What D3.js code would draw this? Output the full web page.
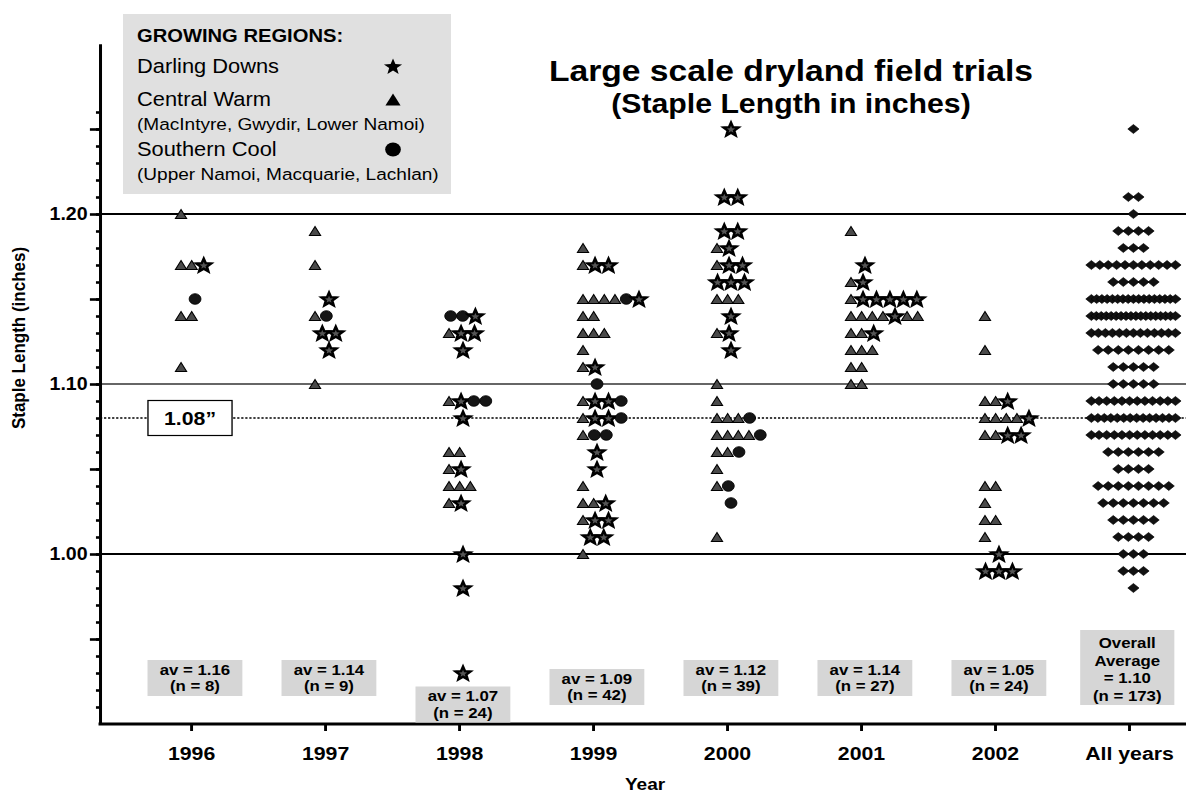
<!DOCTYPE html>
<html>
<head>
<meta charset="utf-8">
<script src="https://cdn.jsdelivr.net/npm/d3@7"></script>
<style>
  html, body { margin: 0; padding: 0; background: #fff; }
  svg { display: block; }
</style>
</head>
<body>
<svg id="chart" width="1186" height="793"></svg>
<script>
// ---------------------------------------------------------------------------
// Data: staple length (inches) of each large scale dryland trial, by season.
// Each row is [staple length, growing regions of the trials at that length],
// region codes: D = Darling Downs, W = Central Warm, S = Southern Cool.
// ---------------------------------------------------------------------------
const categories = ["1996", "1997", "1998", "1999", "2000", "2001", "2002", "All years"];

const trials1996 = [[1.20, "W"], [1.17, "WWD"], [1.15, "S"], [1.14, "WW"], [1.11, "W"]];
const trials1997 = [[1.19, "W"], [1.17, "W"], [1.15, "D"], [1.14, "WS"], [1.13, "DD"], [1.12, "D"], [1.10, "W"]];
const trials1998 = [[1.14, "SSD"], [1.13, "WDD"], [1.12, "D"], [1.09, "WDSS"], [1.08, "D"], [1.06, "WW"],
                    [1.05, "WD"], [1.04, "WWW"], [1.03, "WD"], [1.00, "D"], [0.98, "D"], [0.93, "D"]];
const trials1999 = [[1.18, "W"], [1.17, "WDD"], [1.15, "WWWWSD"], [1.14, "WW"], [1.13, "WWW"], [1.12, "W"],
                    [1.11, "WD"], [1.10, "S"], [1.09, "WDDS"], [1.08, "WDDS"], [1.07, "WSS"], [1.06, "D"],
                    [1.05, "D"], [1.04, "W"], [1.03, "WWD"], [1.02, "WDD"], [1.01, "DD"], [1.00, "W"]];
const trials2000 = [[1.25, "D"], [1.21, "DD"], [1.19, "DD"], [1.18, "WD"], [1.17, "WDD"], [1.16, "DDD"],
                    [1.15, "WWW"], [1.14, "D"], [1.13, "WD"], [1.12, "D"], [1.10, "W"], [1.09, "W"],
                    [1.08, "WWWS"], [1.07, "WWWWS"], [1.06, "WWS"], [1.05, "W"], [1.04, "WS"], [1.03, "S"], [1.01, "W"]];
const trials2001 = [[1.19, "W"], [1.17, "D"], [1.16, "WD"], [1.15, "WDDDDD"], [1.14, "WWWWDWW"],
                    [1.13, "WWD"], [1.12, "WWW"], [1.11, "WW"], [1.10, "WW"]];
const trials2002 = [[1.14, "W"], [1.12, "W"], [1.09, "WWD"], [1.08, "WWWWD"], [1.07, "WWDD"], [1.04, "WW"],
                    [1.03, "W"], [1.02, "WW"], [1.01, "W"], [1.00, "D"], [0.99, "DDD"]];

const trialsByYear = [trials1996, trials1997, trials1998, trials1999, trials2000, trials2001, trials2002];
const yearAverages = [1.16, 1.14, 1.07, 1.09, 1.12, 1.14, 1.05];
const overallAverage = 1.10;
const referenceLength = 1.08;

const yMinorTicks = d3.range(91, 127).map(v => v / 100);
const yMajorTicks = [0.95, 1.00, 1.05, 1.10, 1.15, 1.20, 1.25];
const yTickLabels = ["1.00", "1.10", "1.20"];
const gridLevels = [1.20, 1.10, 1.00];

const legendTitle = "GROWING REGIONS:";
const legendItems = [
  { code: "D", name: "Darling Downs", note: null },
  { code: "W", name: "Central Warm", note: "(MacIntyre, Gwydir, Lower Namoi)" },
  { code: "S", name: "Southern Cool", note: "(Upper Namoi, Macquarie, Lachlan)" }
];

// ---------------------------------------------------------------------------
// Layout: the chart is drawn on a 1058 x 793 canvas and displayed stretched
// to the 1186 px page width.
// ---------------------------------------------------------------------------
const W = 1058, H = 793;
const FONT = "'Liberation Sans', Arial, Helvetica, sans-serif";
const plot = { left: 89.2, right: W, top: 44, bottom: 724 };

const svg = d3.select("#chart")
  .attr("viewBox", `0 0 ${W} ${H}`)
  .attr("preserveAspectRatio", "none")
  .style("font-family", FONT);

const y = d3.scaleLinear().domain([0.90, 1.30]).range([plot.bottom, plot.top]);
const x = d3.scalePoint().domain(categories).range([170.4, 1007.1]);

// marker shapes
function starPath(R, r) {
  const pts = [];
  for (let i = 0; i < 10; i++) {
    const a = -Math.PI / 2 + i * Math.PI / 5;
    const rad = i % 2 ? r : R;
    pts.push([Math.cos(a) * rad, Math.sin(a) * rad + R * 0.095]);
  }
  return "M" + pts.map(p => p.map(v => v.toFixed(2)).join(",")).join("L") + "Z";
}
function trianglePath(w, h) {
  return `M0,${-h / 2}L${w / 2},${h / 2}L${-w / 2},${h / 2}Z`;
}
function diamondPath(w, h) {
  return `M0,${-h / 2}L${w / 2},0L0,${h / 2}L${-w / 2},0Z`;
}
const circlePath = r => d3.symbol(d3.symbolCircle, Math.PI * r * r)();

const markStyle = {
  D: { d: starPath(7, 3), fill: "#555", stroke: "#000", sw: 2.3 },
  W: { d: trianglePath(10, 9), fill: "#4a4a4a", stroke: "#000", sw: 1 },
  S: { d: circlePath(5.3), fill: "#151515", stroke: "#000", sw: 0.8 }
};
const footprint = { W: 9.5, S: 10.7, D: 12 };

// ---------------------------------------------------------------------------
// Reference lines
// ---------------------------------------------------------------------------
const grid = svg.append("g");
grid.selectAll("line.level")
  .data(gridLevels)
  .join("line")
  .attr("class", "level")
  .attr("x1", plot.left).attr("x2", plot.right)
  .attr("y1", d => y(d)).attr("y2", d => y(d))
  .attr("stroke", d => d === 1.10 ? "#333" : "#000")
  .attr("stroke-width", d => d === 1.10 ? 1.3 : 2.2);

grid.append("line")
  .attr("x1", plot.left).attr("x2", plot.right)
  .attr("y1", y(referenceLength)).attr("y2", y(referenceLength))
  .attr("stroke", "#000").attr("stroke-width", 1.6)
  .attr("stroke-dasharray", "2 1.6");

// ---------------------------------------------------------------------------
// Trial marks per season
// ---------------------------------------------------------------------------
const points = [];
trialsByYear.forEach((rows, i) => {
  const cat = categories[i];
  const base = x(cat) - 8.9;
  rows.forEach(([value, codes]) => {
    const list = codes.split("");
    const xs = [0];
    for (let k = 1; k < list.length; k++) {
      xs.push(xs[k - 1] + (footprint[list[k - 1]] + footprint[list[k]]) / 2);
    }
    let start = base;
    if (list[0] !== "W") {
      const span = xs[xs.length - 1];
      start = base + 12.5 - span / 2;
    }
    list.forEach((code, k) => points.push({ cat, value, code, x: start + xs[k] }));
  });
});

svg.append("g")
  .selectAll("path")
  .data(points)
  .join("path")
  .attr("d", d => markStyle[d.code].d)
  .attr("transform", d => `translate(${d.x},${y(d.value)})`)
  .attr("fill", d => markStyle[d.code].fill)
  .attr("stroke", d => markStyle[d.code].stroke)
  .attr("stroke-width", d => markStyle[d.code].sw)
  .attr("stroke-linejoin", "miter");

// All seasons pooled, one diamond per trial
const pooled = d3.rollups(points, v => v.length, d => Math.round(d.value * 100))
  .map(([k, n]) => ({ value: k / 100, n }));
const diamonds = [];
const allX = x("All years") + 4;
pooled.forEach(({ value, n }) => {
  const step = n > 1 ? Math.min(9, 75 / (n - 1)) : 0;
  for (let i = 0; i < n; i++) diamonds.push({ value, x: allX + (i - (n - 1) / 2) * step });
});
svg.append("g")
  .selectAll("path")
  .data(diamonds)
  .join("path")
  .attr("d", diamondPath(10, 9))
  .attr("transform", d => `translate(${d.x},${y(d.value)})`)
  .attr("fill", "#111")
  .attr("stroke", "#000")
  .attr("stroke-width", 0.6);

// ---------------------------------------------------------------------------
// Axes
// ---------------------------------------------------------------------------
const yAxisMinor = d3.axisLeft(y).tickValues(yMinorTicks).tickSize(3.6).tickSizeOuter(0).tickFormat("");
const yAxisMajor = d3.axisLeft(y).tickValues(yMajorTicks).tickSize(9).tickSizeOuter(0).tickPadding(2)
  .tickFormat(d => { const s = d3.format(".2f")(d); return yTickLabels.includes(s) ? s : ""; });

const gyMinor = svg.append("g").attr("transform", `translate(${plot.left},0)`).call(yAxisMinor);
const gyMajor = svg.append("g").attr("transform", `translate(${plot.left},0)`).call(yAxisMajor);
[gyMinor, gyMajor].forEach(g => {
  g.selectAll(".tick line").attr("stroke", "#000").attr("stroke-width", 2.6);
  g.select(".domain").attr("stroke", "#000").attr("stroke-width", 2.6);
});
gyMajor.selectAll(".tick text")
  .attr("fill", "#000")
  .style("font-family", FONT)
  .style("font-size", "17.5px")
  .style("font-weight", "bold");

// x axis
svg.append("line")
  .attr("x1", plot.left - 1.3).attr("x2", plot.right)
  .attr("y1", plot.bottom).attr("y2", plot.bottom)
  .attr("stroke", "#000").attr("stroke-width", 3);
const gx = svg.append("g")
  .attr("transform", `translate(0,${plot.bottom})`)
  .call(d3.axisBottom(x).tickSize(7).tickSizeOuter(0));
gx.select(".domain").remove();
gx.selectAll(".tick line").attr("stroke", "#000").attr("stroke-width", 2.6);
gx.selectAll(".tick text")
  .attr("y", 36).attr("dy", 0)
  .attr("fill", "#000")
  .style("font-family", FONT)
  .style("font-size", "19px")
  .style("font-weight", "bold");

// axis titles
svg.append("text")
  .attr("transform", `translate(22,338) rotate(-90)`)
  .attr("text-anchor", "middle")
  .style("font-size", "17px").style("font-weight", "bold")
  .text("Staple Length (inches)");
svg.append("text")
  .attr("x", 575.4).attr("y", 790)
  .attr("text-anchor", "middle")
  .style("font-size", "17px").style("font-weight", "bold")
  .text("Year");

// ---------------------------------------------------------------------------
// Title
// ---------------------------------------------------------------------------
svg.append("text")
  .attr("x", 705.6).attr("y", 81)
  .attr("text-anchor", "middle")
  .style("font-size", "30px").style("font-weight", "bold")
  .text("Large scale dryland field trials");
svg.append("text")
  .attr("x", 705.6).attr("y", 113)
  .attr("text-anchor", "middle")
  .style("font-size", "27px").style("font-weight", "bold")
  .text("(Staple Length in inches)");

// ---------------------------------------------------------------------------
// 1.08" reference tag
// ---------------------------------------------------------------------------
const tag = svg.append("g");
tag.append("rect")
  .attr("x", 132).attr("y", y(referenceLength) - 17.5)
  .attr("width", 75).attr("height", 35)
  .attr("fill", "#fff").attr("stroke", "#000").attr("stroke-width", 1.2);
tag.append("text")
  .attr("x", 169.5).attr("y", y(referenceLength) + 7.5)
  .attr("text-anchor", "middle")
  .style("font-size", "19px").style("font-weight", "bold")
  .text(d3.format(".2f")(referenceLength) + "\u201D");

// ---------------------------------------------------------------------------
// Season averages
// ---------------------------------------------------------------------------
const boxTop = { "1998": 686.5, "1999": 669 };
const avg = svg.append("g");
trialsByYear.forEach((rows, i) => {
  const cat = categories[i];
  const n = d3.sum(rows, r => r[1].length);
  const top = boxTop[cat] || 660;
  const cx = x(cat) + 3.5;
  avg.append("rect")
    .attr("x", cx - 42.3).attr("y", top)
    .attr("width", 84.6).attr("height", 36)
    .attr("fill", "#d6d6d6");
  avg.append("text")
    .attr("x", cx).attr("y", top + 15)
    .attr("text-anchor", "middle")
    .style("font-size", "15px").style("font-weight", "bold")
    .text(`av = ${d3.format(".2f")(yearAverages[i])}`);
  avg.append("text")
    .attr("x", cx).attr("y", top + 31.5)
    .attr("text-anchor", "middle")
    .style("font-size", "15px").style("font-weight", "bold")
    .text(`(n = ${n})`);
});
{
  const cx = x("All years") - 1.5;
  const top = 630;
  avg.append("rect")
    .attr("x", cx - 42).attr("y", top)
    .attr("width", 84).attr("height", 75)
    .attr("fill", "#d6d6d6");
  const lines = ["Overall", "Average", `= ${d3.format(".2f")(overallAverage)}`, `(n = ${points.length})`];
  avg.selectAll("text.overall")
    .data(lines)
    .join("text")
    .attr("class", "overall")
    .attr("x", cx).attr("y", (d, i) => top + 18.5 + i * 17.5)
    .attr("text-anchor", "middle")
    .style("font-size", "15px").style("font-weight", "bold")
    .text(d => d);
}

// ---------------------------------------------------------------------------
// Legend
// ---------------------------------------------------------------------------
const legend = svg.append("g");
legend.append("rect")
  .attr("x", 109.7).attr("y", 14)
  .attr("width", 292.6).attr("height", 180)
  .attr("fill", "#e0e0e0");
legend.append("text")
  .attr("x", 122.2).attr("y", 41.7)
  .style("font-size", "18px").style("font-weight", "bold")
  .text(legendTitle);
const legendSymbols = {
  D: starPath(8.5, 3.6),
  W: trianglePath(13.5, 12),
  S: circlePath(7)
};
const itemBaselines = [72.7, 106, 156];
legendItems.forEach((item, i) => {
  const yb = itemBaselines[i];
  legend.append("text")
    .attr("x", 122.2).attr("y", yb)
    .style("font-size", "19.5px")
    .text(item.name);
  legend.append("path")
    .attr("d", legendSymbols[item.code])
    .attr("transform", `translate(350.6,${yb - 6.5})`)
    .attr("fill", "#000");
  if (item.note) {
    legend.append("text")
      .attr("x", 122.2).attr("y", yb + 24.5)
      .style("font-size", "17px")
      .text(item.note);
  }
});
</script>
</body>
</html>
